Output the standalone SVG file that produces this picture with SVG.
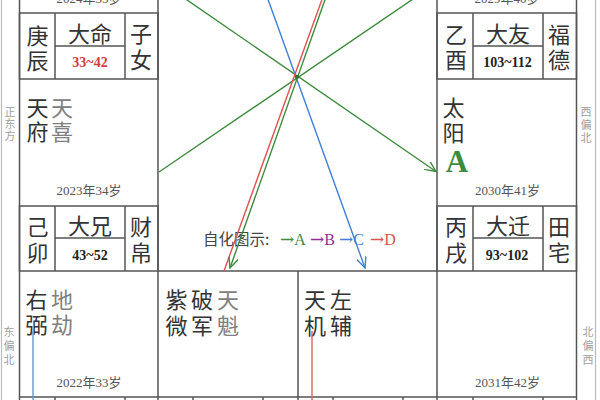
<svg xmlns="http://www.w3.org/2000/svg" width="600" height="400" viewBox="0 0 600 400">
<defs>
<style>
.bd{fill:none;stroke:#555;stroke-width:1.5}
.out{fill:none;stroke:#bbb;stroke-width:1.2}
.ch{font-family:"Noto Sans CJK SC","Noto Sans",sans-serif;font-size:22px;fill:#333;text-anchor:middle;dominant-baseline:central}
.g{fill:#808080}
.rng{font-family:"Liberation Serif","Noto Sans CJK SC",serif;font-size:14px;font-weight:bold;fill:#222;text-anchor:middle;dominant-baseline:central}
.age{font-family:"Liberation Serif","Noto Sans CJK SC",serif;font-size:13px;fill:#555;text-anchor:middle}
.dir{font-family:"Noto Sans CJK SC",sans-serif;font-size:11px;fill:#a0a0a0;text-anchor:middle;dominant-baseline:central}
.ln{fill:none;stroke-width:1.4}
.lg{font-family:"Liberation Serif","Noto Sans CJK SC",serif;font-size:16px}
.ar{font-family:"DejaVu Serif",serif;font-size:17px}
</style>
<marker id="ag" viewBox="0 0 12 10" refX="11" refY="5" markerWidth="12" markerHeight="10" markerUnits="userSpaceOnUse" orient="auto"><path d="M0,0 L11,5 L0,10" fill="none" stroke="#3d8b3d" stroke-width="1.4"/></marker>
<marker id="ab" viewBox="0 0 12 10" refX="11" refY="5" markerWidth="12" markerHeight="10" markerUnits="userSpaceOnUse" orient="auto"><path d="M0,0 L11,5 L0,10" fill="none" stroke="#3f7fd8" stroke-width="1.4"/></marker>
</defs>
<rect width="600" height="400" fill="#fff"/>

<g id="frame">
<line class="out" x1="1.5" y1="0" x2="1.5" y2="400"/>
<line class="out" x1="595.5" y1="0" x2="595.5" y2="400"/>
<line class="bd" x1="19.5" y1="0" x2="19.5" y2="400"/>
<line class="bd" x1="158" y1="0" x2="158" y2="400"/>
<line class="bd" x1="437" y1="0" x2="437" y2="400"/>
<line class="bd" x1="576.5" y1="0" x2="576.5" y2="400"/>
<line class="bd" x1="298" y1="271" x2="298" y2="400"/>
<line class="bd" x1="19.5" y1="397" x2="576.5" y2="397"/>
<line class="bd" x1="158" y1="271" x2="437" y2="271"/>
<g class="bd">
<line x1="55" y1="397" x2="55" y2="400"/><line x1="125" y1="397" x2="125" y2="400"/>
<line x1="193" y1="397" x2="193" y2="400"/><line x1="263" y1="397" x2="263" y2="400"/>
<line x1="333" y1="397" x2="333" y2="400"/><line x1="403" y1="397" x2="403" y2="400"/>
<line x1="473" y1="397" x2="473" y2="400"/><line x1="543" y1="397" x2="543" y2="400"/>
</g>
</g>

<g id="dirs">
<text class="dir" x="10" y="111">正</text><text class="dir" x="10" y="123">东</text><text class="dir" x="10" y="135">方</text>
<text class="dir" x="9" y="331">东</text><text class="dir" x="9" y="345">偏</text><text class="dir" x="9" y="359">北</text>
<text class="dir" x="586" y="111">西</text><text class="dir" x="586" y="124">偏</text><text class="dir" x="586" y="137">北</text>
<text class="dir" x="588" y="331">北</text><text class="dir" x="588" y="345">偏</text><text class="dir" x="588" y="359">西</text>
</g>

<g id="top-left">
<text class="age" x="89" y="3">2024年35岁</text>
</g>
<g id="top-right">
<text class="age" x="507" y="3">2029年40岁</text>
</g>

<g id="hdr-daming">
<rect class="bd" x="19.5" y="13" width="138.5" height="66"/>
<line class="bd" x1="55" y1="13" x2="55" y2="79"/><line class="bd" x1="125" y1="13" x2="125" y2="79"/>
<line class="bd" x1="55" y1="46" x2="125" y2="46"/>
<text class="ch" x="37.5" y="33.5">庚</text><text class="ch" x="37.5" y="59">辰</text>
<text class="ch" x="90" y="31.5">大命</text>
<text class="rng" x="90" y="62.5" style="fill:#d23c3c">33~42</text>
<text class="ch" x="141" y="32">子</text><text class="ch" x="141" y="57.5">女</text>
</g>

<g id="cell-tianfu">
<text class="ch" x="37.5" y="105.5">天</text><text class="ch" x="37.5" y="130">府</text>
<text class="ch g" x="62" y="105.5">天</text><text class="ch g" x="62" y="130">喜</text>
<text class="age" x="89" y="194.5">2023年34岁</text>
</g>

<g id="hdr-daxiong">
<rect class="bd" x="19.5" y="206" width="138.5" height="65"/>
<line class="bd" x1="55" y1="206" x2="55" y2="271"/><line class="bd" x1="125" y1="206" x2="125" y2="271"/>
<line class="bd" x1="55" y1="238" x2="125" y2="238"/>
<text class="ch" x="37.5" y="225">己</text><text class="ch" x="37.5" y="251">卯</text>
<text class="ch" x="90" y="224">大兄</text>
<text class="rng" x="90" y="255">43~52</text>
<text class="ch" x="141" y="225">财</text><text class="ch" x="141" y="251">帛</text>
</g>

<g id="cell-youbi">
<text class="ch" x="36.5" y="298">右</text><text class="ch" x="36.5" y="322.5">弼</text>
<text class="ch g" x="62" y="298">地</text><text class="ch g" x="62" y="322.5">劫</text>
<text class="age" x="89" y="387">2022年33岁</text>
</g>

<g id="cell-ziwei">
<text class="ch" x="176.5" y="298">紫</text><text class="ch" x="176.5" y="323.5">微</text>
<text class="ch" x="202" y="298">破</text><text class="ch" x="202" y="323.5">军</text>
<text class="ch g" x="228" y="298">天</text><text class="ch g" x="228" y="323.5">魁</text>
</g>

<g id="cell-tianji">
<text class="ch" x="315" y="298">天</text><text class="ch" x="315" y="323.5">机</text>
<text class="ch" x="341" y="298">左</text><text class="ch" x="341" y="323.5">辅</text>
</g>

<g id="hdr-dayou">
<rect class="bd" x="437" y="13" width="139.5" height="66"/>
<line class="bd" x1="473" y1="13" x2="473" y2="79"/><line class="bd" x1="543" y1="13" x2="543" y2="79"/>
<line class="bd" x1="473" y1="46" x2="543" y2="46"/>
<text class="ch" x="456" y="32.5">乙</text><text class="ch" x="456" y="58">酉</text>
<text class="ch" x="508" y="31.5">大友</text>
<text class="rng" x="507.5" y="62.5">103~112</text>
<text class="ch" x="559" y="32.5">福</text><text class="ch" x="559" y="58">德</text>
</g>

<g id="cell-taiyang">
<text class="ch" x="453.5" y="106">太</text><text class="ch" x="453.5" y="130.5">阳</text>
<text x="457" y="172" style="font-family:'Liberation Serif',serif;font-size:31px;font-weight:bold;fill:#3d8b3d;text-anchor:middle">A</text>
<text class="age" x="507.5" y="194.5">2030年41岁</text>
</g>

<g id="hdr-daqian">
<rect class="bd" x="437" y="206" width="139.5" height="65"/>
<line class="bd" x1="473" y1="206" x2="473" y2="271"/><line class="bd" x1="543" y1="206" x2="543" y2="271"/>
<line class="bd" x1="473" y1="238" x2="543" y2="238"/>
<text class="ch" x="456" y="225">丙</text><text class="ch" x="456" y="251">戌</text>
<text class="ch" x="508" y="224">大迁</text>
<text class="rng" x="507" y="255">93~102</text>
<text class="ch" x="559" y="225">田</text><text class="ch" x="559" y="251">宅</text>
</g>

<g id="cell-br">
<text class="age" x="507.5" y="386.5">2031年42岁</text>
</g>

<g id="legend">
<text x="203" y="245" style="font-family:'Noto Sans CJK SC',sans-serif;font-size:15.5px;fill:#444">自化图示:</text>
<text class="lg" y="245"><tspan class="ar" x="280" fill="#3d8b3d">→</tspan><tspan fill="#3d8b3d">A</tspan><tspan class="ar" x="310" fill="#8e2f9a">→</tspan><tspan fill="#8e2f9a">B</tspan><tspan class="ar" x="339" fill="#3f7fd8">→</tspan><tspan fill="#3f7fd8">C</tspan><tspan class="ar" x="370" fill="#d9534f">→</tspan><tspan fill="#d9534f">D</tspan></text>
</g>

<g id="connectors">
<line class="ln" x1="158" y1="-20" x2="436" y2="171.5" stroke="#3d8b3d" marker-end="url(#ag)"/>
<line class="ln" x1="441" y1="-20" x2="159" y2="172" stroke="#3d8b3d"/>
<line class="ln" x1="261" y1="-20" x2="365" y2="268" stroke="#3f7fd8" marker-end="url(#ab)"/>
<line class="ln" x1="329" y1="-20" x2="224" y2="271" stroke="#e05252"/>
<line class="ln" x1="332" y1="-20" x2="230" y2="268" stroke="#3d8b3d" marker-end="url(#ag)"/>
<circle cx="297" cy="77" r="2" fill="#2e6e2e"/>
<line class="ln" x1="33" y1="331" x2="33" y2="400" stroke="#5b9bd5"/>
<line class="ln" x1="312" y1="331" x2="312" y2="400" stroke="#e06060"/>
</g>
</svg>
